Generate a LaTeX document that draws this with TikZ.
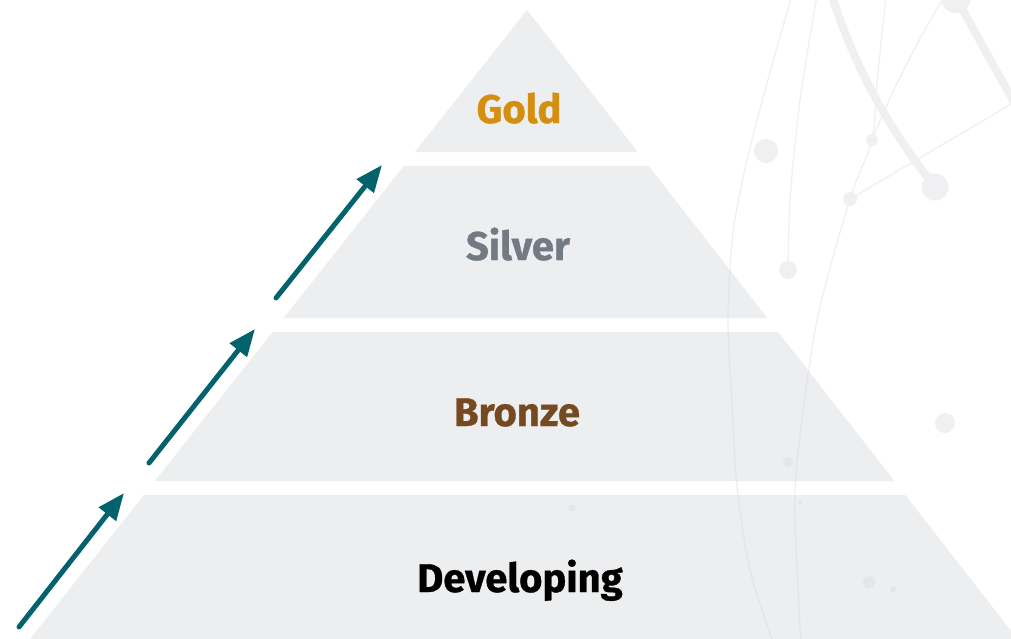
\documentclass[tikz,border=0pt]{standalone}
\usepackage{fontspec}
\setmainfont{Fira Sans}[BoldFeatures={FakeBold=0.8}]
\usetikzlibrary{arrows.meta}
\definecolor{pyr}{HTML}{EDEEF0}
\definecolor{decoA}{HTML}{F0F0F2}
\definecolor{decoB}{HTML}{E4E5E8}
\definecolor{goldc}{HTML}{D48E10}
\definecolor{silverc}{HTML}{737A83}
\definecolor{bronzec}{HTML}{764A21}
\definecolor{tealc}{HTML}{03626C}
\newcommand\mydecor[1]{%
  \begin{scope}[draw=#1,fill=#1]
    % thick arcs
    \draw[line width=8pt] (830,-10) .. controls (855,70) and (890,130) .. (935,187);
    \draw[line width=8pt] (956,-2) -- (1035,140);
    \fill (935,187) circle[radius=13.5pt];
    \fill (956,-2) circle[radius=15pt];
    % thin lines
    \draw[line width=1.3pt] plot[smooth] coordinates {(886,-5) (877,83) (872,140) (850,199) (817,320) (798,453) (795,520) (801,645)};
    \draw[line width=1.3pt] (945,-5) .. controls (915,45) and (890,95) .. (872,140);
    \draw[line width=1.3pt] (850,199) -- (1030,93);
    \draw[line width=1.3pt] plot[smooth] coordinates {(817,-5) (800,100) (790,200) (788,270)};
    \draw[line width=1.3pt] plot[smooth] coordinates {(792,-5) (767,83) (747,160) (733,233) (728,320) (732,403) (737,487) (750,570) (774,645)};
    % dots
    \fill (872,140) circle[radius=6pt];
    \fill (850,199) circle[radius=7pt];
    \fill (788,270) circle[radius=9pt];
    \fill (766,151) circle[radius=12pt];
    \fill (945,423) circle[radius=10pt];
    \fill (788,462) circle[radius=5pt];
    \fill (800,503) circle[radius=2pt];
    \fill (869,582) circle[radius=6pt];
    \fill (893,589) circle[radius=3pt];
    \fill (572,508) circle[radius=3.5pt];
  \end{scope}}
\newcommand\bandpath{%
  (527,10) -- (414.8,152) -- (637.8,152) -- cycle
  (403.8,166) -- (648.7,166) -- (767.2,318) -- (283.7,318) -- cycle
  (272.6,332) -- (778.2,332) -- (894.4,481) -- (154.9,481) -- cycle
  (143.9,495) -- (905.3,495) -- (1026,650) -- (21.4,650) -- cycle}
\begin{document}
\begin{tikzpicture}[x=1pt,y=-1pt,
  lvl/.style={font=\fontsize{40}{40}\selectfont\bfseries, anchor=base, inner sep=0pt},
  arr/.style={draw=tealc, line width=5pt, line cap=round, -{Triangle[length=27pt,width=21pt]}}]
\fill[white] (0,0) rectangle (1011,638);
\useasboundingbox (0,0) rectangle (1011,638);
\clip (0,0) rectangle (1011,638);
\mydecor{decoA}
\fill[pyr] \bandpath;
\begin{scope}
  \clip \bandpath;
  \mydecor{decoB}
\end{scope}
\node[lvl, text=goldc] (gold) at (519,123) {Gold};
\node[lvl, text=silverc] (silver) at (518,260) {Silver};
\node[lvl, text=bronzec] (bronze) at (517,426) {Bronze};
\node[lvl, text=black] (dev) at (520,592) {Developing};
\coordinate (a1s) at (19,627);  \coordinate (a1e) at (124,493);
\coordinate (a2s) at (149,463); \coordinate (a2e) at (255,329);
\coordinate (a3s) at (276,298); \coordinate (a3e) at (382,165);
\draw[arr] (a1s) -- (a1e);
\draw[arr] (a2s) -- (a2e);
\draw[arr] (a3s) -- (a3e);
\end{tikzpicture}
\end{document}
